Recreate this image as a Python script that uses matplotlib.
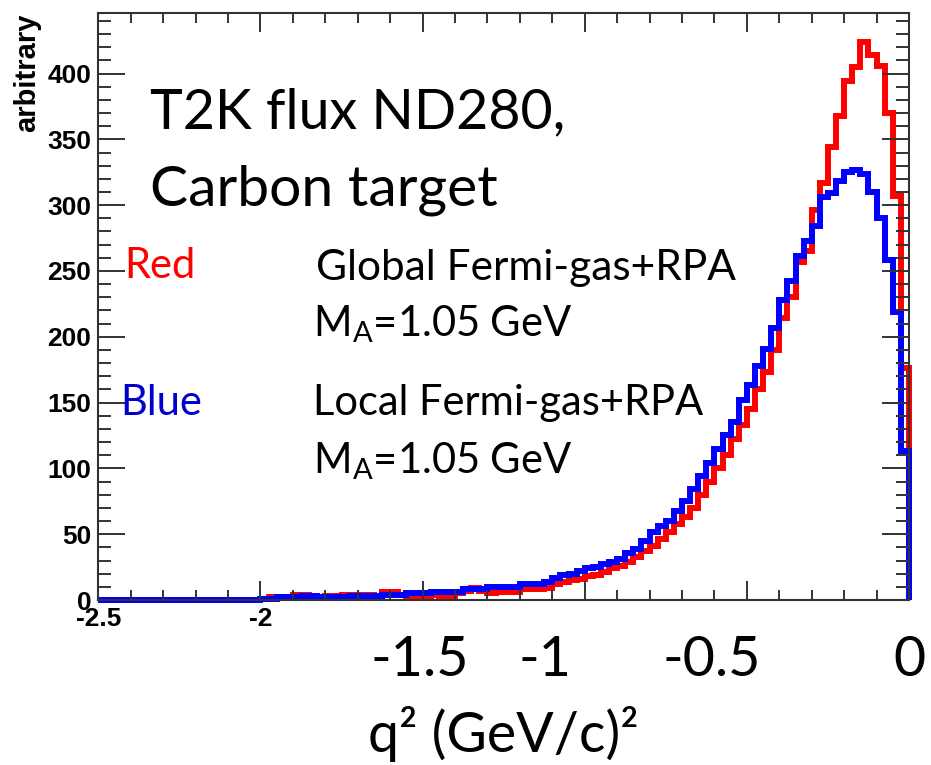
import numpy as np
import matplotlib
matplotlib.use("Agg")
import matplotlib.pyplot as plt
from matplotlib.ticker import MultipleLocator

plt.rcParams['font.family'] = ['Lato', 'DejaVu Sans']
plt.rcParams['mathtext.fontset'] = 'custom'
plt.rcParams['mathtext.rm'] = 'Lato'

# histogram: 100 bins from -2.5 to 0 (GeV/c)^2
q2_edges = np.linspace(-2.5, 0, 101)

red_counts = [0] * 20 + [
    1, 2, 2, 2, 4, 4, 2, 2, 3, 3, 4, 4, 4, 4, 3,
    6, 6, 4, 3, 2, 3, 4, 3, 3, 5,
    7, 9, 7, 5, 6, 6, 6, 8, 8, 8,
    9, 12, 14, 15, 16, 18, 19, 21, 24, 26,
    29, 33, 37, 41, 46, 52, 58, 63, 70, 80,
    90, 100, 110, 122, 133, 145, 160, 173, 190, 214,
    230, 257, 265, 296, 317, 344, 368, 394, 405, 424,
    414, 406, 370, 307, 176]

blue_counts = [0] * 20 + [
    1, 1, 2, 2, 2, 3, 3, 2, 2, 2, 2, 3, 3, 3, 3,
    4, 4, 4, 5, 5, 5, 6, 6, 6, 6,
    8, 8, 8, 10, 10, 10, 10, 12, 12, 12,
    14, 17, 19, 20, 22, 24, 25, 27, 29, 31,
    36, 39, 45, 52, 56, 60, 68, 75, 84, 94,
    104, 115, 125, 135, 152, 163, 178, 191, 207, 228,
    242, 261, 273, 284, 306, 309, 318, 325, 327, 324,
    310, 290, 258, 219, 113]

root_xticks = [-2.5, -2, -1.5, -1, -0.5, 0]
root_xlabels = ['-2.5', '-2', '', '', '', '']
root_yticks = [0, 50, 100, 150, 200, 250, 300, 350, 400]
big_xlabels = ['-1.5', '-1', '-0.5', '0']

W, H = 931, 765
fig = plt.figure(figsize=(W / 100, H / 100), dpi=100)
ax = fig.add_axes([98.3 / W, 1 - 600 / H, (909 - 98.3) / W, (600 - 13) / H])

ax.stairs(red_counts, q2_edges, color='#ff0000', linewidth=4.3, baseline=0, clip_on=False)
ax.stairs(blue_counts, q2_edges, color='#0000ff', linewidth=4.3, baseline=0, clip_on=False)

ax.set_xlim(-2.5, 0)
ax.set_ylim(0, 446)

for s in ax.spines.values():
    s.set_linewidth(1.5)
    s.set_color('#333333')

root_font = dict(family=['Liberation Sans', 'DejaVu Sans'], fontweight='bold', fontsize=19)
ax.set_xticks(root_xticks, labels=root_xlabels, **root_font)
ax.set_yticks(root_yticks, labels=[str(v) for v in root_yticks], **root_font)
ax.xaxis.set_minor_locator(MultipleLocator(0.1))
ax.yaxis.set_minor_locator(MultipleLocator(10))

ax.tick_params(which='both', direction='in', top=True, right=True, color='#333333', width=1.4)
ax.tick_params(axis='x', which='major', length=13.5, pad=5)
ax.tick_params(axis='x', which='minor', length=7)
ax.tick_params(axis='y', which='major', length=19.5, pad=5)
ax.tick_params(axis='y', which='minor', length=9.5)

fig.text(27 / W, 1 - 13 / H, 'arbitrary', rotation=90, ha='center', va='top',
         family=['Liberation Sans', 'DejaVu Sans'], fontweight='bold', fontsize=21)

# slide annotations
def ftext(x, y, s, **kw):
    fig.text(x / W, 1 - y / H, s, va='baseline', **kw)

ftext(150, 128, 'T2K flux ND280,', fontsize=40)
ftext(150, 205, 'Carbon target', fontsize=41)
ftext(124, 278, 'Red', fontsize=30, color='#ff0000')
ftext(316, 280, 'Global Fermi-gas+RPA', fontsize=30.5)
ftext(313, 336, r'M$_\mathregular{A}$=1.05 GeV', fontsize=30)
ftext(120, 415, 'Blue', fontsize=30, color='#0000cc')
ftext(313, 415, 'Local Fermi-gas+RPA', fontsize=30)
ftext(313, 473, r'M$_\mathregular{A}$=1.05 GeV', fontsize=30)

for xc, lab in zip([420, 545, 712, 909], big_xlabels):
    ftext(xc, 676, lab, fontsize=40, ha='center')
ftext(503, 752, 'q² (GeV/c)²', fontsize=40, ha='center')

fig.savefig('out.png', dpi=100)
